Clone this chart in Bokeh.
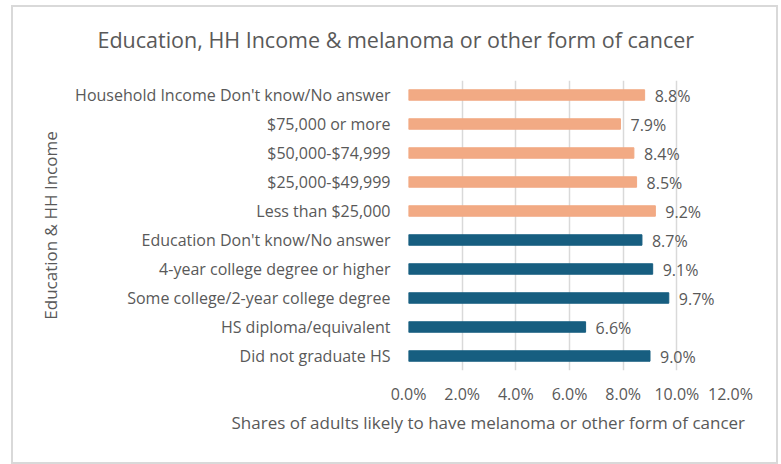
from bokeh.plotting import figure
from bokeh.models import ColumnDataSource, Range1d, FixedTicker, Title, LinearAxis
from bokeh.core.properties import value
from bokeh.embed import file_html
from bokeh.resources import INLINE

categories = [
    "Household Income Don't know/No answer",
    "$75,000 or more",
    "$50,000-$74,999",
    "$25,000-$49,999",
    "Less than $25,000",
    "Education Don't know/No answer",
    "4-year college degree or higher",
    "Some college/2-year college degree",
    "HS diploma/equivalent",
    "Did not graduate HS",
]
shares = [8.8, 7.9, 8.4, 8.5, 9.2, 8.7, 9.1, 9.7, 6.6, 9.0]
groups = ["income"] * 5 + ["education"] * 5
x_ticks = [0, 2, 4, 6, 8, 10, 12]
x_tick_labels = ["0.0%", "2.0%", "4.0%", "6.0%", "8.0%", "10.0%", "12.0%"]
title_text = "Education, HH Income & melanoma or other form of cancer"
x_title = "Shares of adults likely to have melanoma or other form of cancer"
y_title = "Education & HH Income"

group_colors = {"income": "#F2AA84", "education": "#175E80"}

FONT = "Open Sans"
GRAY = "#595959"

n = len(categories)
pos = [n - 1 - i for i in range(n)]
src = ColumnDataSource(dict(
    cat=categories,
    share=shares,
    pos=pos,
    color=[group_colors[g] for g in groups],
    label=[f"{v:.1f}%" for v in shares],
))

# outer chart box (page pixels)
BX, BY = 13, 7
W, H = 763, 455
# plot frame (page pixels)
PFL, PFT, FW, FH = 408, 80, 322, 290
FL, FT = PFL - BX, PFT - BY
XMAX = 12
p = figure(
    width=W, height=H,
    frame_width=FW, frame_height=FH,
    min_border_left=FL, min_border_top=FT,
    min_border_right=W - FL - FW, min_border_bottom=H - FT - FH,
    x_range=Range1d(0, XMAX), y_range=Range1d(-0.5, n - 0.5),
    output_backend="svg", toolbar_location=None, title=None,
    styles={"margin-left": "11px", "margin-top": "5px",
            "border": "2px solid #D9D9D9"},
)
p.outline_line_color = None
p.background_fill_color = "white"
p.border_fill_color = "white"

# invisible spacer (white tick, blank label) between the frame and the title
spacer = LinearAxis(ticker=FixedTicker(ticks=[0]), axis_line_color=None,
                    major_tick_line_color="white", minor_tick_line_color=None,
                    major_tick_out=22, major_tick_in=0, major_label_standoff=0,
                    major_label_overrides={0: ""})
p.add_layout(spacer, "above")

chart_title = Title(text=title_text, align="left", offset=97 - PFL,
                    text_font=FONT, text_font_size="21.5px",
                    text_font_style="normal", text_color=GRAY, standoff=10)
p.add_layout(chart_title, "above")

p.hbar(y="pos", right="share", left=0, height=0.36, color="color", source=src)
p.text(x="share", y="pos", text="label", source=src, x_offset=10, y_offset=1,
       text_baseline="middle", text_align="left", text_color=GRAY,
       text_font=value(FONT), text_font_size="16px")

xaxis = None
for ax in p.below:
    if isinstance(ax, LinearAxis):
        xaxis = ax
yaxis = p.yaxis[0]

xaxis.ticker = FixedTicker(ticks=x_ticks)
xaxis.major_label_overrides = {t: l for t, l in zip(x_ticks, x_tick_labels)}
yaxis.ticker = FixedTicker(ticks=pos)
yaxis.major_label_overrides = {pp: c for pp, c in zip(pos, categories)}

for ax in (xaxis, yaxis):
    ax.axis_line_color = None
    ax.major_tick_line_color = None
    ax.minor_tick_line_color = None
    ax.major_label_text_font = FONT
    ax.major_label_text_font_size = "16px"
    ax.major_label_text_color = GRAY
yaxis.major_label_standoff = 12
xaxis.major_label_standoff = 6
yaxis.axis_label = y_title
yaxis.axis_label_text_font = FONT
yaxis.axis_label_text_font_size = "17px"
yaxis.axis_label_text_font_style = "normal"
yaxis.axis_label_text_color = GRAY
yaxis.axis_label_standoff = 10

p.ygrid.grid_line_color = None
p.xgrid.grid_line_color = "#D9D9D9"
p.xgrid.grid_line_width = 1.5

xt = Title(text=x_title, align="left", offset=231 - PFL,
           text_font=FONT, text_font_size="17px", text_font_style="normal",
           text_color=GRAY, standoff=2)
p.add_layout(xt, "below")

open("out.html", "w").write(file_html(p, INLINE))
